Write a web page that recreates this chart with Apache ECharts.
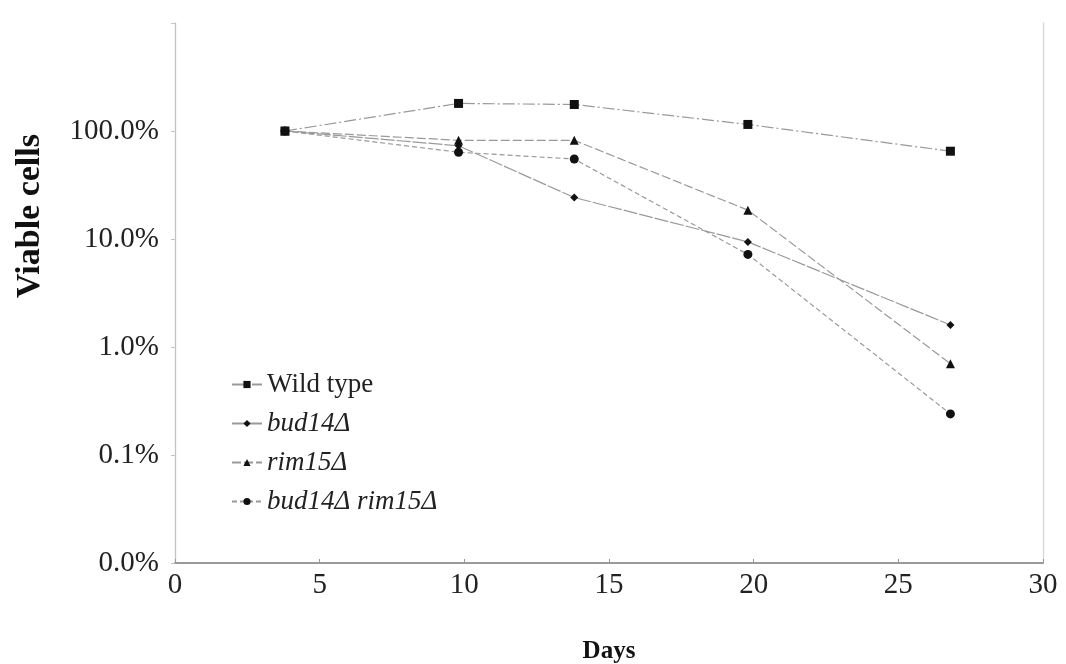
<!DOCTYPE html>
<html>
<head>
<meta charset="utf-8">
<script src="https://cdn.jsdelivr.net/npm/echarts@6/dist/echarts.min.js"></script>
<style>
  html, body { margin: 0; padding: 0; background: #fff; }
  #chart { width: 1066px; height: 664px; }
</style>
</head>
<body>
<div id="chart"></div>
<script>
// Survival time course: fraction of viable cells per strain
const days = [3.8, 9.8, 13.8, 19.8, 26.8];
const wildType = [1.00, 1.80, 1.76, 1.15, 0.65];
const bud14 = [1.00, 0.73, 0.242, 0.094, 0.016];
const rim15 = [1.00, 0.82, 0.82, 0.185, 0.0070];
const bud14rim15 = [1.00, 0.636, 0.55, 0.072, 0.0024];

const seriesNames = ['Wild type', 'bud14\u0394', 'rim15\u0394', 'bud14\u0394 rim15\u0394'];
const xTicks = [0, 5, 10, 15, 20, 25, 30];

const serif = '"Liberation Serif", "DejaVu Serif", serif';

function pairs(vals) {
  return days.map((d, i) => [d, vals[i]]);
}

function lineSeries(name, vals, symbol, size, dash) {
  return {
    name: name,
    type: 'line',
    data: pairs(vals),
    symbol: symbol,
    symbolSize: size,
    itemStyle: { color: '#111' },
    lineStyle: { color: '#999999', width: 1.2, type: dash },
    emphasis: { disabled: true },
    animation: false
  };
}

const chart = echarts.init(document.getElementById('chart'));
chart.setOption({
  backgroundColor: '#fff',
  grid: { left: 175, right: 23, top: 23, bottom: 101, containLabel: false, outerBoundsMode: 'none' },
  xAxis: {
    type: 'value',
    min: xTicks[0],
    max: xTicks[xTicks.length - 1],
    interval: 5,
    name: 'Days',
    nameLocation: 'middle',
    nameGap: 76,
    nameTextStyle: { fontFamily: serif, fontWeight: 'bold', fontSize: 25, color: '#111' },
    axisLine: { lineStyle: { color: '#9a9a9a', width: 2 } },
    axisTick: { show: true, inside: true, length: 4, lineStyle: { color: '#9a9a9a' } },
    axisLabel: { fontFamily: serif, fontSize: 29, color: '#222', margin: 8 },
    splitLine: { show: false }
  },
  yAxis: [{
    type: 'log',
    logBase: 10,
    min: 0.0001,
    max: 10,
    interval: 1,
    axisLine: { show: true, lineStyle: { color: '#c4c4c4', width: 1.3 } },
    axisTick: { show: true, length: 4, lineStyle: { color: '#c4c4c4' } },
    axisLabel: {
      fontFamily: serif, fontSize: 29, color: '#222', margin: 16,
      formatter: v => (v >= 9.99 ? '' : (v * 100).toFixed(1) + '%')
    },
    splitLine: { show: false }
  }, {
    type: 'log',
    logBase: 10,
    min: 0.0001,
    max: 10,
    position: 'right',
    axisLine: { show: true, lineStyle: { color: '#d8d8d8', width: 1.3 } },
    axisTick: { show: false },
    axisLabel: { show: false },
    splitLine: { show: false }
  }],
  legend: {
    orient: 'vertical',
    left: 226,
    top: 366,
    itemWidth: 30,
    itemHeight: 9,
    itemGap: 12,
    data: seriesNames,
    textStyle: {
      fontFamily: serif, fontSize: 27, color: '#222',
      rich: { i: { fontFamily: serif, fontSize: 27, fontStyle: 'italic', color: '#222' } }
    },
    formatter: n => (n === 'Wild type' ? n : '{i|' + n + '}')
  },
  graphic: [{
    type: 'text',
    x: 30,
    y: 216,
    rotation: Math.PI / 2,
    style: {
      text: 'Viable cells',
      fontFamily: serif,
      fontWeight: 'bold',
      fontSize: 34,
      fill: '#111',
      align: 'center',
      verticalAlign: 'middle'
    }
  }],
  series: [
    lineSeries(seriesNames[0], wildType, 'rect', 9, [12, 3, 2, 3]),
    lineSeries(seriesNames[1], bud14, 'diamond', 8, [14, 2]),
    lineSeries(seriesNames[2], rim15, 'triangle', 9, [9, 3]),
    lineSeries(seriesNames[3], bud14rim15, 'circle', 9, [5, 3])
  ]
});
</script>
</body>
</html>
